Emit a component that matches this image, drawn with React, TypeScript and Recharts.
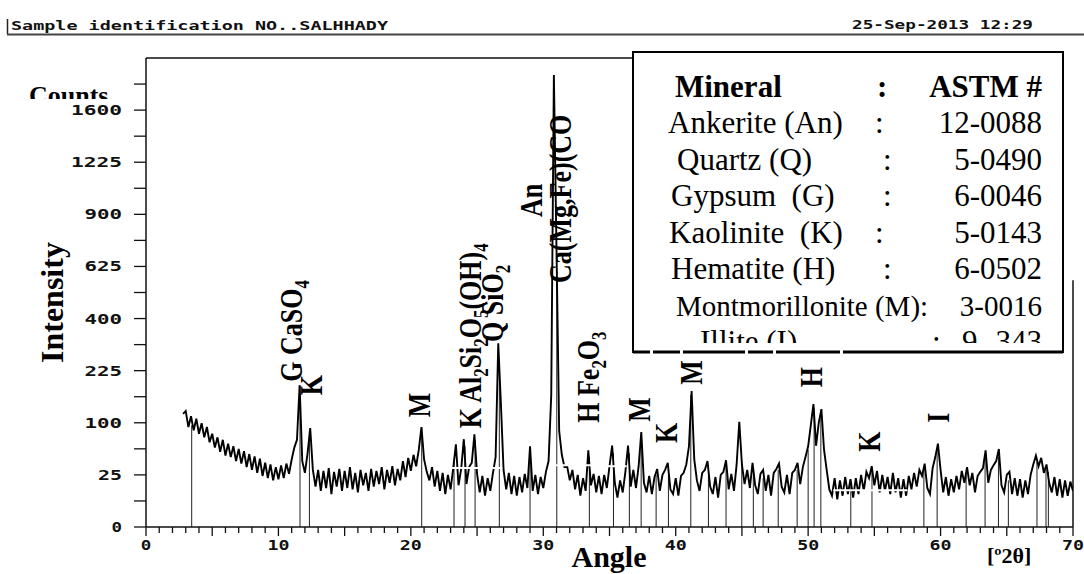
import React from 'react';
import { ComposedChart, Line, XAxis, YAxis, ReferenceLine, ReferenceDot } from 'recharts';

// ---- scan (2θ grid from 2.8° in 0.2° steps) ----
const START_ANGLE = 2.8;
const STEP = 0.2;
const counts: number[] = [
  // 2.8 - 4.8
  118, 124, 92, 113, 86, 108, 80, 99, 74, 92, 66,
  // 5.0 - 9.8
  80, 58, 74, 52, 70, 47, 64, 45, 60, 40, 56, 37, 53, 33, 49, 30, 46, 27, 43, 24, 38, 22, 36, 20, 33,
  // 10.0 - 14.8
  21, 35, 22, 37, 26, 42, 58, 70, 185, 40, 27, 50, 90, 30, 15, 30, 12, 29, 14, 32, 10, 28, 15, 31, 12,
  // 15.0 - 19.8
  29, 14, 33, 13, 27, 11, 30, 16, 27, 12, 31, 15, 29, 17, 33, 13, 30, 18, 34, 16, 31, 20, 40, 23, 44,
  // 20.0 - 24.8
  29, 48, 34, 55, 92, 42, 28, 20, 33, 15, 29, 12, 27, 10, 25, 13, 32, 63, 16, 31, 71, 17, 33, 38, 79,
  // 25.0 - 29.8
  26, 11, 24, 9, 22, 12, 27, 45, 311, 140, 30, 13, 27, 10, 24, 9, 23, 11, 26, 14, 60, 12, 25, 10, 23,
  // 30.0 - 34.8
  14, 28, 40, 160, 1880, 700, 85, 48, 33, 34, 20, 30, 13, 25, 9, 22, 12, 54, 16, 26, 11, 24, 10, 25, 14,
  // 35.0 - 39.8
  34, 61, 18, 8, 20, 11, 28, 61, 15, 30, 14, 34, 83, 18, 11, 24, 10, 23, 31, 12, 25, 30, 38, 13, 10,
  // 40.0 - 44.8
  22, 9, 24, 27, 36, 60, 170, 42, 20, 12, 27, 30, 40, 15, 10, 23, 8, 25, 28, 41, 13, 26, 12, 36, 102,
  // 45.0 - 49.8
  36, 17, 30, 14, 38, 16, 10, 26, 30, 12, 25, 9, 27, 31, 37, 15, 11, 25, 10, 27, 30, 38, 17, 33, 45,
  // 50.0 - 54.8
  60, 95, 139, 61, 100, 128, 55, 30, 13, 9, 22, 7, 20, 9, 23, 10, 21, 8, 22, 10, 25, 12, 28, 22, 34,
  // 55.0 - 59.8
  16, 29, 11, 25, 12, 23, 10, 27, 11, 22, 8, 21, 9, 24, 13, 27, 15, 30, 24, 37, 14, 10, 32, 45, 64,
  // 60.0 - 64.8
  30, 11, 23, 9, 21, 11, 24, 13, 29, 18, 33, 16, 27, 11, 24, 28, 32, 54, 18, 30, 35, 40, 56, 16, 11,
  // 65.0 - 69.8
  25, 28, 10, 22, 9, 21, 8, 20, 10, 25, 36, 47, 34, 44, 27, 36, 18, 11, 23, 9, 21, 8, 20, 9, 19,
  // 70.0
  12,
];
const angles: number[] = counts.map((_, i) => Math.round((START_ANGLE + i * STEP) * 10) / 10);

// ---- peak marker sticks ----
const markAngles = [3.45, 11.63, 12.34, 20.82, 23.26, 24.09, 24.85, 26.68, 29.0, 31.02, 33.48, 35.3, 36.5, 37.39, 38.52, 39.45, 41.14, 42.47, 43.8, 44.99, 45.86, 46.6, 47.74, 49.17, 50.0, 50.45, 50.96, 53.22, 54.82, 58.74, 59.74, 61.93, 63.36, 64.37, 65.12, 67.28, 67.96, 68.14];
const markCounts = [95, 185, 85, 90, 40, 60, 70, 250, 55, 600, 45, 50, 50, 75, 25, 35, 160, 35, 35, 40, 30, 22, 30, 30, 55, 130, 120, 15, 30, 30, 55, 25, 45, 45, 20, 40, 30, 28];

// ---- peak labels (anchor = start of rotated text) ----
const labelTexts = ['G CaSO_4', 'K', 'M', 'K Al_2Si_2O_5(OH)_4', 'Q SiO_2', 'An', 'Ca(Mg,Fe)(CO', 'H Fe_2O_3', 'M', 'K', 'M', 'H', 'K', 'I'];
const labelAngles = [11.8, 13.29, 21.45, 25.3, 26.96, 29.9, 32.07, 34.21, 38.06, 40.1, 41.99, 51.04, 55.42, 60.64];
const labelCounts = [194, 160, 111, 90, 315, 885, 548, 100, 102, 65, 186, 180, 52, 100];

// ---- axes ----
const yMajor = [0, 25, 100, 225, 400, 625, 900, 1225, 1600];
const yMinor = [6.25, 56.25, 156.25, 306.25, 506.25, 756.25, 1056.25, 1406.25, 1806.25];
const yTicks = [...yMajor, ...yMinor].sort((a, b) => a - b);
const xTicks = Array.from({ length: 71 }, (_, i) => i);

// ---- legend table ----
const minerals = ['Ankerite (An)', 'Quartz (Q)', 'Gypsum\u00A0 (G)', 'Kaolinite\u00A0 (K)', 'Hematite (H)', 'Montmorillonite (M):', 'Illite (I)'];
const astmCodes = ['12-0088', '5-0490', '6-0046', '5-0143', '6-0502', '3-0016', '9- 343'];
const mineralX = [668, 677, 671, 669, 671, 676, 700];
const colonX = [875, 883, 883, 875, 883, null, 932];

const data = angles.map((a, i) => ({ angle: a, counts: counts[i] }));

const MONO = "'DejaVu Sans Mono', monospace";
const SERIF = "'Liberation Serif', 'Times New Roman', serif";

const YTick = (props: any) => {
  const { x, y, payload } = props;
  const v = payload.value;
  const major = yMajor.includes(v);
  const n = String(v).length;
  return (
    <g>
      <line x1={x - 12} x2={x} y1={y} y2={y} stroke="#111" strokeWidth={1.3} />
      {major && (
        <text
          x={x - 24}
          y={y}
          dy={5}
          textAnchor="end"
          fontFamily={MONO}
          fontWeight="bold"
          fontSize={14}
          textLength={13.5 * n - 3}
          lengthAdjust="spacingAndGlyphs"
          fill="#111"
        >
          {v}
        </text>
      )}
    </g>
  );
};

const XTick = (props: any) => {
  const { x, y, payload } = props;
  const v = payload.value;
  const len = v % 5 === 0 ? 9 : 6;
  const n = String(v).length;
  return (
    <g>
      <line x1={x} x2={x} y1={y} y2={y + len} stroke="#111" strokeWidth={1.3} />
      {v % 10 === 0 && (
        <text
          x={x}
          y={y + 23}
          textAnchor="middle"
          fontFamily={MONO}
          fontWeight="bold"
          fontSize={14.5}
          textLength={11.5 * n - 1}
          lengthAdjust="spacingAndGlyphs"
          fill="#111"
        >
          {v}
        </text>
      )}
    </g>
  );
};

const makeLabel = (text: string) => (p: any) => {
  const parts = text.split(/(_\d)/).filter(Boolean);
  let prevSub = false;
  return (
    <text
      transform={`translate(${p.cx},${p.cy}) rotate(-90) scale(0.84,1)`}
      fontFamily={SERIF}
      fontWeight="bold"
      fontSize={31}
      fill="#000"
    >
      {parts.map((s, i) => {
        if (s.startsWith('_')) {
          prevSub = true;
          return (
            <tspan key={i} fontSize={20} dy={7}>
              {s.slice(1)}
            </tspan>
          );
        }
        const dy = prevSub ? -7 : 0;
        prevSub = false;
        return (
          <tspan key={i} dy={dy}>
            {s}
          </tspan>
        );
      })}
    </text>
  );
};

export default function App() {
  return (
    <div style={{ position: 'absolute', left: 0, top: 0, width: 1084, height: 574, background: '#fff', overflow: 'hidden' }}>
      <ComposedChart width={1084} height={574} data={data} margin={{ top: 58, right: 11, bottom: 0, left: 0 }}>
        <XAxis
          type="number"
          dataKey="angle"
          domain={[0, 70]}
          ticks={xTicks}
          interval={0}
          height={47}
          tickSize={0}
          tickMargin={0}
          tick={XTick}
          axisLine={{ stroke: '#111', strokeWidth: 1.5 }}
          allowDataOverflow
        />
        <YAxis
          type="number"
          scale="sqrt"
          domain={[0, 2025]}
          ticks={yTicks}
          interval={0}
          width={146}
          tickSize={0}
          tickMargin={0}
          tick={YTick}
          axisLine={{ stroke: '#111', strokeWidth: 1.5 }}
          allowDataOverflow
        />
        <ReferenceLine segment={[{ x: 0, y: 2025 }, { x: 37, y: 2025 }]} stroke="#111" strokeWidth={1.5} />
        <ReferenceLine segment={[{ x: 70, y: 0 }, { x: 70, y: 560 }]} stroke="#111" strokeWidth={1.5} />
        {markAngles.map((a, i) => (
          <ReferenceLine key={'m' + i} segment={[{ x: a, y: 0 }, { x: a, y: markCounts[i] }]} stroke="#222" strokeWidth={1} />
        ))}
        <Line type="linear" dataKey="counts" stroke="#000" strokeWidth={1.9} strokeLinejoin="miter" dot={false} isAnimationActive={false} />
        <ReferenceLine segment={[{ x: 22.95, y: 32 }, { x: 26.9, y: 32 }]} stroke="#fff" strokeWidth={2} />
        <ReferenceLine segment={[{ x: 30.9, y: 35 }, { x: 33.75, y: 35 }]} stroke="#fff" strokeWidth={2} />
        <ReferenceLine segment={[{ x: 34.3, y: 34 }, { x: 36.3, y: 34 }]} stroke="#fff" strokeWidth={2} />
        <ReferenceLine segment={[{ x: 51.9, y: 12.4 }, { x: 57.5, y: 12.4 }]} stroke="#fff" strokeWidth={2} />
        {labelTexts.map((t, i) => (
          <ReferenceDot key={'l' + i} x={labelAngles[i]} y={labelCounts[i]} r={1} ifOverflow="visible" shape={makeLabel(t)} />
        ))}
      </ComposedChart>

      <svg width={1084} height={574} style={{ position: 'absolute', left: 0, top: 0, pointerEvents: 'none' }}>
        <defs>
          <clipPath id="countsClip">
            <rect x={0} y={80} width={200} height={19} />
          </clipPath>
          <clipPath id="legendClip">
            <rect x={633} y={52} width={430} height={291} />
          </clipPath>
        </defs>
        {/* header */}
        <line x1={7.5} x2={7.5} y1={19} y2={34} stroke="#222" strokeWidth={1.5} />
        <text x={11} y={30} fontFamily={MONO} fontWeight="bold" fontSize={13} textLength={377} lengthAdjust="spacingAndGlyphs" fill="#111">
          Sample identification NO..SALHHADY
        </text>
        <text x={852} y={29} fontFamily={MONO} fontWeight="bold" fontSize={13} textLength={181} lengthAdjust="spacingAndGlyphs" fill="#111">
          25-Sep-2013 12:29
        </text>
        <line x1={7} x2={1084} y1={34.5} y2={34.5} stroke="#444" strokeWidth={2} />

        {/* axis titles */}
        <text x={29} y={104} clipPath="url(#countsClip)" fontFamily={SERIF} fontWeight="bold" fontSize={26} fill="#000">
          Counts
        </text>
        <text transform="translate(63,363) rotate(-90)" fontFamily={SERIF} fontWeight="bold" fontSize={32} fill="#000">
          Intensity
        </text>
        <text x={609} y={567} textAnchor="middle" fontFamily={SERIF} fontWeight="bold" fontSize={30} fill="#000">
          Angle
        </text>
        <text x={987} y={563} fontFamily={SERIF} fontWeight="bold" fontSize={22} fill="#000">
          [º2θ]
        </text>

        {/* legend box */}
        <rect x={633} y={52} width={430} height={300} fill="#fff" stroke="#000" strokeWidth={2} />
        <line x1={633} x2={1063} y1={352} y2={352} stroke="#000" strokeWidth={3} />
        {[650, 680, 745, 773, 840].map((gx) => (
          <rect key={gx} x={gx} y={349} width={3} height={6} fill="#fff" />
        ))}
        <g fontFamily={SERIF} fontSize={31} fill="#000">
          <text x={675} y={97} fontWeight="bold">Mineral</text>
          <text x={877} y={97} fontWeight="bold">:</text>
          <text x={1042} y={97} fontWeight="bold" textAnchor="end">ASTM #</text>
          <g clipPath="url(#legendClip)">
            {minerals.map((m, i) => {
              const yy = 133 + i * 36.5;
              return (
                <g key={m}>
                  <text x={mineralX[i]} y={yy} fontSize={i === 5 ? 29 : 31}>{m}</text>
                  {colonX[i] !== null && <text x={colonX[i] as number} y={yy}>:</text>}
                  <text x={1042} y={yy} textAnchor="end" fontSize={i === 5 ? 29 : 31}>{astmCodes[i]}</text>
                </g>
              );
            })}
          </g>
        </g>
      </svg>
    </div>
  );
}
